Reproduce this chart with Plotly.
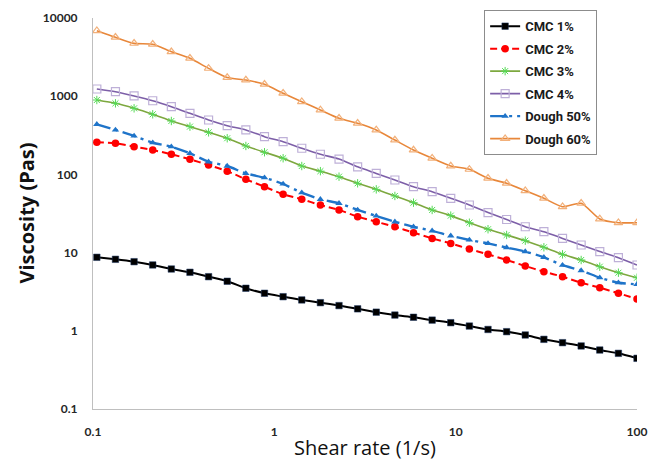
import plotly.graph_objects as go

# Shear rate sweep, 30 log-spaced points (1/s)
shear_rate = [0.105, 0.133, 0.1685, 0.2135, 0.2704, 0.3425, 0.4339, 0.5497, 0.6966, 0.8826,
              1.118, 1.417, 1.795, 2.274, 2.880, 3.648, 4.622, 5.854, 7.418, 9.396,
              11.90, 15.08, 19.10, 24.20, 30.66, 38.85, 49.21, 62.34, 78.97, 100.0]

# Apparent viscosity (Pa.s)
cmc_1 = [8.71, 8.21, 7.65, 6.95, 6.17, 5.60, 4.92, 4.30, 3.50, 3.02,
         2.73, 2.48, 2.29, 2.10, 1.91, 1.73, 1.59, 1.49, 1.37, 1.27,
         1.15, 1.04, 0.975, 0.884, 0.778, 0.705, 0.640, 0.568, 0.515, 0.445]
cmc_2 = [257, 250, 226, 205, 181, 156, 132, 110, 86.5, 69.6,
         55.6, 48.1, 40.6, 35.1, 28.8, 24.8, 21.4, 18.0, 15.2, 13.1,
         11.1, 9.5, 8.04, 6.74, 5.70, 4.92, 4.12, 3.56, 3.02, 2.55]
cmc_3 = [894, 811, 700, 587, 482, 408, 345, 290, 231, 192,
         161, 128, 110, 93.5, 77, 64.4, 53, 43.5, 35.1, 29.7,
         24.1, 19.9, 16.8, 14.2, 11.7, 9.5, 8.04, 6.6, 5.53, 4.77]
cmc_4 = [1236, 1142, 1007, 875, 734, 604, 496, 420, 370, 304,
         262, 216, 181, 157, 125, 103, 84.8, 69.6, 60.1, 49.5,
         40.6, 32.5, 26.5, 21.4, 18.5, 15.2, 12.5, 10.3, 8.6, 6.94]
dough_50 = [437, 370, 310, 254, 226, 186, 145, 128, 103, 90.7,
            75.4, 58.4, 48.1, 42.7, 35.1, 29.4, 24.8, 21.4, 19.0, 16.4,
            14.5, 13.1, 11.6, 10.3, 8.7, 6.9, 5.9, 4.78, 4.12, 3.93]
dough_60 = [6880, 5660, 4740, 4610, 3700, 3050, 2270, 1730, 1611, 1419,
            1089, 851, 667, 522, 450, 370, 275, 205, 161, 128,
            116, 89.1, 76.9, 61.9, 49.5, 38.6, 42.7, 26.9, 24.1, 24.1]

series_names = ["CMC 1%", "CMC 2%", "CMC 3%", "CMC 4%", "Dough 50%", "Dough 60%"]
series_values = [cmc_1, cmc_2, cmc_3, cmc_4, dough_50, dough_60]

x_ticks = [0.1, 1, 10, 100]
x_tick_labels = ["0.1", "1", "10", "100"]
y_ticks = [0.1, 1, 10, 100, 1000, 10000]
y_tick_labels = ["0.1", "1", "10", "100", "1000", "10000"]

styles = [
    dict(line=dict(color="#000000", width=2, dash="solid"),
         marker=dict(symbol="square", size=6.5, color="#000000",
                     line=dict(color="#1F3864", width=0.5))),
    dict(line=dict(color="#FF0000", width=2, dash="7px,4px"),
         marker=dict(symbol="circle", size=7.5, color="#FF0000")),
    dict(line=dict(color="#7DA83F", width=1.6, dash="solid"),
         marker=dict(symbol="asterisk-open", size=7, color="#55DA55",
                     line=dict(color="#55DA55", width=1))),
    dict(line=dict(color="#7D5FA8", width=1.6, dash="solid"),
         marker=dict(symbol="square-open", size=8, color="#BEB0D8",
                     line=dict(color="#BEB0D8", width=1.2))),
    dict(line=dict(color="#1F74C9", width=2.4, dash="14px,5px,3px,5px"),
         marker=dict(symbol="triangle-up", size=6.5, color="#1F74C9")),
    dict(line=dict(color="#E8873A", width=1.6, dash="solid"),
         marker=dict(symbol="triangle-up-open", size=7.5, color="#F2B07A",
                     line=dict(color="#F2B07A", width=1.2))),
]

fig = go.Figure()
for i, (name, vals, st) in enumerate(zip(series_names, series_values, styles)):
    fig.add_trace(go.Scatter(
        x=shear_rate, y=vals, name=name, mode="lines+markers",
        legendgroup=f"g{i}",
        line=dict(shape="spline", smoothing=0.6, **st["line"]),
        marker=st["marker"],
    ))

tick_font = dict(family="Lato, 'Open Sans', sans-serif", size=12, color="#262626", weight="bold")
title_family = "'Open Sans', sans-serif"

fig.update_layout(
    width=649, height=466,
    margin=dict(l=93, r=12, t=18, b=57, autoexpand=False),
    paper_bgcolor="white", plot_bgcolor="white",
    showlegend=True,
    legend=dict(
        x=0.719, y=1.02, xanchor="left", yanchor="top",
        bgcolor="white", bordercolor="#8C8C8C", borderwidth=1,
        font=dict(family="Roboto, Lato, sans-serif", size=13, color="#1A1A1A", weight="bold"),
        itemwidth=30, tracegroupgap=2.6,
    ),
    xaxis=dict(
        type="log", range=[-1, 2], automargin=False,
        tickvals=x_ticks, ticktext=x_tick_labels,
        showgrid=False, zeroline=False,
        showline=True, linecolor="#BFBFBF", linewidth=1,
        ticks="", ticklabelstandoff=12,
        tickfont=tick_font,
    ),
    yaxis=dict(
        type="log", range=[-1, 4], automargin=False,
        tickvals=y_ticks, ticktext=y_tick_labels,
        showgrid=False, zeroline=False,
        showline=True, linecolor="#BFBFBF", linewidth=1,
        ticks="", ticklabelstandoff=12,
        tickfont=tick_font,
    ),
    annotations=[
        dict(text="Shear rate (1/s)", xref="paper", yref="paper",
             x=0.5, y=-0.098, xanchor="center", yanchor="middle", showarrow=False,
             font=dict(family=title_family, size=20, color="#111111")),
        dict(text="Viscosity (Pas)", xref="paper", yref="paper",
             x=-0.123, y=0.50, xanchor="center", yanchor="middle", showarrow=False,
             textangle=-90,
             font=dict(family=title_family, size=20, color="#111111", weight="bold")),
    ],
)

fig.write_html("out.html")
